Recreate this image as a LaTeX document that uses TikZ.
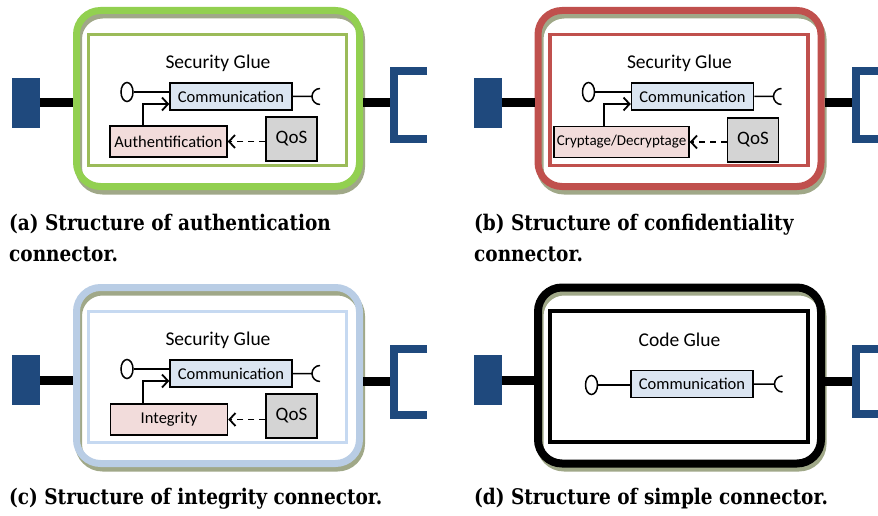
\documentclass[tikz,border=0pt]{standalone}
\usepackage{fontspec}
\setmainfont{Carlito}
\newfontfamily\capfont{DejaVu Serif}[FakeStretch=0.86]
\usetikzlibrary{shapes.geometric, arrows.meta, positioning}
\definecolor{plugblue}{HTML}{1F497D}
\definecolor{commblue}{HTML}{DBE5F1}
\definecolor{secpink}{HTML}{F2DCDB}
\definecolor{qosgray}{HTML}{D4D4D4}
\definecolor{shadeolive}{HTML}{A0A888}
\definecolor{glgreen}{HTML}{92D050}
\definecolor{glgreenin}{HTML}{9BBB59}
\definecolor{glred}{HTML}{C0504D}
\definecolor{glblue}{HTML}{B9CDE5}
\definecolor{glbluein}{HTML}{C6D9F1}

\tikzset{
  plug/.style={fill=plugblue, minimum width=28pt, minimum height=50pt, inner sep=0pt},
  wire/.style={line width=9pt},
  jack/.style={draw=plugblue, line width=8pt},
  ring/.style={rounded corners=24pt, line width=7pt, minimum width=283pt, minimum height=176pt, inner sep=0pt},
  ringshade/.style={ring, draw=shadeolive},
  frame/.style={line width=3.5pt, minimum width=258pt, minimum height=131pt, inner sep=0pt},
  title/.style={font=\fontsize{19.5}{21}\selectfont},
  part/.style={draw, line width=1.5pt, inner sep=0pt, font=\fontsize{16.5}{18}\selectfont},
  commbox/.style={part, fill=commblue, minimum width=122pt, minimum height=27pt},
  secbox/.style={part, fill=secpink, minimum width=117pt, minimum height=31pt},
  qosbox/.style={part, fill=qosgray, minimum width=51pt, minimum height=44pt, font=\fontsize{19}{21}\selectfont},
  port/.style={draw, ellipse, line width=1.5pt, minimum width=12pt, minimum height=19pt, inner sep=0pt},
  link/.style={line width=1.5pt},
  flow/.style={line width=1.8pt, -{Straight Barb[length=6pt, width=13pt]}},
  qosflow/.style={flow, dash pattern=on 6pt off 5pt},
  caption/.style={anchor=west, align=left, inner sep=0pt, font=\capfont\bfseries\fontsize{21.5}{31}\selectfont},
}

\begin{document}
\begin{tikzpicture}[x=1pt, y=-1pt]
  \useasboundingbox (0,0) rectangle (878,516);

  % (a) authentication
  \begin{scope}
    \node[plug] (a-plug) at (26,103) {};
    \node[ringshade] (a-shade) at (220,103) {};
    \node[ring, draw=glgreen] (a-ring) at (218,98.5) {};
    \node[frame, draw=glgreenin] (a-frame) at (217.5,100) {};
    \node[title] (a-title) at (218,63) {Security Glue};
    \node[commbox] (a-comm) at (231,96.5) {Communication};
    \node[port] (a-prov) at (127,92) {};
    \coordinate (a-req) at (312,96.5);
    \node[secbox] (a-sec) at (168.5,141.5) {Authentification};
    \node[qosbox] (a-qos) at (291.5,139) {QoS};
    \coordinate (a-jack) at (394,103);
    \draw[wire] (a-plug.east) -- (a-plug.east -| a-ring.west);
    \draw[wire] (a-ring.east |- a-jack) -- (a-jack);
    \draw[jack] (427,71) -| (a-jack) |- (427,139);
    \draw[link] (a-prov.east) -- (a-prov.east -| a-comm.west);
    \draw[link] (a-comm.east) -- (a-req) ++(8,-8) arc[start angle=90, end angle=270, radius=8pt];
    \draw[flow] ([xshift=-25.5pt]a-sec.north) |- ([yshift=-7.5pt]a-comm.west);
    \draw[qosflow] (a-qos.west |- a-sec.east) -- (a-sec.east);
  \end{scope}

  % (b) confidentiality
  \begin{scope}[shift={(461.5,0)}]
    \node[plug] (b-plug) at (26,103) {};
    \node[ringshade] (b-shade) at (220,103) {};
    \node[ring, draw=glred] (b-ring) at (218,98.5) {};
    \node[frame, draw=glred] (b-frame) at (217.5,100) {};
    \node[title] (b-title) at (218,63) {Security Glue};
    \node[commbox] (b-comm) at (231,96.5) {Communication};
    \node[port] (b-prov) at (127,92) {};
    \coordinate (b-req) at (312,96.5);
    \node[secbox, minimum width=135pt, font=\fontsize{15}{17}\selectfont] (b-sec) at (160,142) {Cryptage/Decryptage};
    \node[qosbox] (b-qos) at (291.5,140) {QoS};
    \coordinate (b-jack) at (394,103);
    \draw[wire] (b-plug.east) -- (b-plug.east -| b-ring.west);
    \draw[wire] (b-ring.east |- b-jack) -- (b-jack);
    \draw[jack] (440,71) -| (b-jack) |- (440,139);
    \draw[link] (b-prov.east) -- (b-prov.east -| b-comm.west);
    \draw[link] (b-comm.east) -- (b-req) ++(8,-8) arc[start angle=90, end angle=270, radius=8pt];
    \draw[flow] ([xshift=-17.5pt]b-sec.north) |- ([yshift=-7.5pt]b-comm.west);
    \draw[qosflow] (b-qos.west |- b-sec.east) -- (b-sec.east);
  \end{scope}

  % (c) integrity
  \begin{scope}[shift={(0,277)}]
    \node[plug] (c-plug) at (26,103) {};
    \node[ringshade] (c-shade) at (220,103) {};
    \node[ring, draw=glblue] (c-ring) at (218,98.5) {};
    \node[frame, draw=glbluein] (c-frame) at (217.5,100) {};
    \node[title] (c-title) at (218,63) {Security Glue};
    \node[commbox] (c-comm) at (231,96.5) {Communication};
    \node[port] (c-prov) at (127,92) {};
    \coordinate (c-req) at (312,96.5);
    \node[secbox] (c-sec) at (169,142.5) {Integrity};
    \node[qosbox] (c-qos) at (291.5,139) {QoS};
    \coordinate (c-jack) at (394,104);
    \draw[wire] (c-plug.east) -- (c-plug.east -| c-ring.west);
    \draw[wire] (c-ring.east |- c-jack) -- (c-jack);
    \draw[jack] (427,72) -| (c-jack) |- (427,138);
    \draw[link] (c-prov.east) -- (c-prov.east -| c-comm.west);
    \draw[link] (c-comm.east) -- (c-req) ++(8,-8) arc[start angle=90, end angle=270, radius=8pt];
    \draw[flow] ([xshift=-26pt]c-sec.north) |- ([yshift=-7.5pt]c-comm.west);
    \draw[qosflow] (c-qos.west |- c-sec.east) -- (c-sec.east);
  \end{scope}

  % (d) simple
  \begin{scope}[shift={(461.5,277)}]
    \node[plug] (d-plug) at (26,103) {};
    \node[ringshade] (d-shade) at (220,103) {};
    \node[ring, draw=black, line width=8pt] (d-ring) at (218,98.5) {};
    \node[frame, draw=black] (d-frame) at (217.5,99.5) {};
    \node[title] (d-title) at (218,63) {Code Glue};
    \node[commbox] (d-comm) at (230.5,107) {Communication};
    \node[port] (d-prov) at (130,108) {};
    \coordinate (d-req) at (313,107);
    \coordinate (d-jack) at (394,104);
    \draw[wire] (d-plug.east) -- (d-plug.east -| d-ring.west);
    \draw[wire] (d-ring.east |- d-jack) -- (d-jack);
    \draw[jack] (440,72) -| (d-jack) |- (440,137);
    \draw[link] (d-prov.east) -- (d-prov.east -| d-comm.west);
    \draw[link] (d-comm.east) -- (d-req) ++(8,-8) arc[start angle=90, end angle=270, radius=8pt];
  \end{scope}

  % captions
  \node[caption] (cap-a) at (9,238) {(a) Structure of authentication\\connector.};
  \node[caption] (cap-b) at (474,238) {(b) Structure of confidentiality\\connector.};
  \node[caption] (cap-c) at (9,499) {(c) Structure of integrity connector.};
  \node[caption] (cap-d) at (474,499) {(d) Structure of simple connector.};
\end{tikzpicture}
\end{document}
